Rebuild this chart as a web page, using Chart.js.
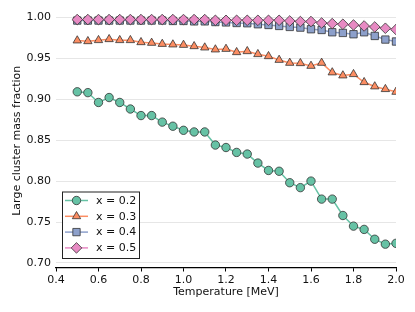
<!DOCTYPE html>
<html>
<head>
<meta charset="utf-8">
<script src="https://cdn.jsdelivr.net/npm/chart.js@4/dist/chart.umd.min.js"></script>
<style>
  html, body { margin: 0; padding: 0; background: #fff; }
</style>
</head>
<body>
<canvas id="massChart" width="415" height="312"></canvas>
<script>
// temperatures [MeV]
var temperatures = [0.50, 0.55, 0.60, 0.65, 0.70, 0.75, 0.80, 0.85, 0.90, 0.95,
                    1.00, 1.05, 1.10, 1.15, 1.20, 1.25, 1.30, 1.35, 1.40, 1.45,
                    1.50, 1.55, 1.60, 1.65, 1.70, 1.75, 1.80, 1.85, 1.90, 1.95, 2.00];

// large cluster mass fraction, one list per x
var fracX02 = [0.909, 0.908, 0.896, 0.902, 0.896, 0.888, 0.880, 0.880, 0.872, 0.867,
               0.862, 0.860, 0.860, 0.844, 0.841, 0.835, 0.833, 0.822, 0.813, 0.812,
               0.798, 0.792, 0.800, 0.778, 0.778, 0.758, 0.745, 0.741, 0.729, 0.723, 0.724];
var fracX03 = [0.9716, 0.9707, 0.972, 0.9732, 0.972, 0.972, 0.9695, 0.9687, 0.9674, 0.9667,
               0.9662, 0.9646, 0.963, 0.9606, 0.9613, 0.9573, 0.9585, 0.9549, 0.9524, 0.9479,
               0.9443, 0.9439, 0.9406, 0.9443, 0.9326, 0.9289, 0.9305, 0.9207, 0.9155, 0.9122, 0.9089];
var fracX04 = [0.996, 0.996, 0.996, 0.996, 0.996, 0.996, 0.996, 0.996, 0.996, 0.9955,
               0.9955, 0.995, 0.995, 0.9942, 0.9937, 0.993, 0.9927, 0.9915, 0.9906, 0.9894,
               0.9882, 0.9874, 0.9854, 0.9845, 0.9817, 0.9809, 0.9793, 0.9817, 0.9772, 0.9728, 0.9704];
var fracX05 = [0.9972, 0.9972, 0.9972, 0.9972, 0.9972, 0.9972, 0.9972, 0.9972, 0.9972, 0.9972,
               0.9972, 0.9972, 0.9972, 0.9963, 0.9963, 0.9963, 0.9963, 0.9963, 0.9963, 0.9963,
               0.9955, 0.9948, 0.9948, 0.993, 0.9923, 0.9915, 0.9906, 0.9894, 0.9882, 0.9866, 0.985];

var seriesLabels = ["x = 0.2", "x = 0.3", "x = 0.4", "x = 0.5"];
var xTickValues = [0.4, 0.6, 0.8, 1.0, 1.2, 1.4, 1.6, 1.8, 2.0];
var yTickValues = [0.70, 0.75, 0.80, 0.85, 0.90, 0.95, 1.00];

var FONT = "'DejaVu Sans', sans-serif";
var EDGE = "#333333";

function makeSet(label, values, color, style, radius, order) {
  return {
    label: label,
    data: temperatures.map(function(t, i) { return {x: t, y: values[i]}; }),
    borderColor: color,
    backgroundColor: color,
    borderWidth: 1.5,
    pointStyle: style,
    pointRadius: radius,
    pointBackgroundColor: color,
    pointBorderColor: EDGE,
    pointBorderWidth: 0.8,
    order: order
  };
}

var datasets = [
  makeSet(seriesLabels[0], fracX02, "#66c2a5", "circle", 4.2, 4),
  makeSet(seriesLabels[1], fracX03, "#fc8d62", "triangle", 4.8, 3),
  makeSet(seriesLabels[2], fracX04, "#8da0cb", "rect", 5.2, 2),
  makeSet(seriesLabels[3], fracX05, "#e78ac3", "rectRot", 5.3, 1)
];

// matplotlib-style boxed legend, drawn on the canvas
var boxLegend = {
  id: "boxLegend",
  afterDraw: function(chart) {
    var ctx = chart.ctx;
    var bx = 62, by = 191.5, bw = 77, bh = 66.5;
    ctx.save();
    ctx.fillStyle = "rgba(255,255,255,0.9)";
    ctx.fillRect(bx, by, bw, bh);
    ctx.strokeStyle = "#222";
    ctx.lineWidth = 1;
    ctx.strokeRect(bx + 0.5, by + 0.5, bw, bh);
    chart.data.datasets.forEach(function(ds, i) {
      var y = by + 9 + i * 15.8;
      ctx.strokeStyle = ds.borderColor;
      ctx.lineWidth = 1.5;
      ctx.beginPath();
      ctx.moveTo(65, y);
      ctx.lineTo(88, y);
      ctx.stroke();
      ctx.fillStyle = ds.pointBackgroundColor;
      ctx.strokeStyle = ds.pointBorderColor;
      ctx.lineWidth = ds.pointBorderWidth;
      Chart.helpers.drawPoint(ctx, {pointStyle: ds.pointStyle, radius: ds.pointRadius, borderWidth: ds.pointBorderWidth}, 76.5, y);
      ctx.fillStyle = "#111";
      ctx.font = "11px " + FONT;
      ctx.textBaseline = "middle";
      ctx.textAlign = "left";
      ctx.fillText(ds.label, 96, y + 0.5);
    });
    ctx.restore();
  }
};

new Chart(document.getElementById("massChart"), {
  type: "line",
  data: { datasets: datasets },
  plugins: [boxLegend],
  options: {
    responsive: false,
    animation: false,
    layout: { padding: { left: 0, right: 19, top: 14, bottom: 0 } },
    plugins: { legend: { display: false }, tooltip: { enabled: false } },
    scales: {
      x: {
        type: "linear",
        min: 0.4,
        max: 2.0,
        afterBuildTicks: function(scale) {
          scale.ticks = xTickValues.map(function(v) { return {value: v}; });
        },
        afterFit: function(scale) { scale.height = 44.5; },
        border: { display: true, color: "#000", width: 1.2 },
        grid: { drawOnChartArea: false, drawTicks: true, tickLength: 4, color: "#000", tickWidth: 1 },
        ticks: {
          padding: 2,
          color: "#111",
          font: { family: FONT, size: 11 },
          maxRotation: 0,
          callback: function(v) { return v.toFixed(1); }
        },
        title: {
          display: true,
          text: "Temperature [MeV]",
          color: "#111",
          font: { family: FONT, size: 11 },
          padding: { top: 0, bottom: 13 }
        }
      },
      y: {
        min: 0.6945,
        max: 1.004,
        afterBuildTicks: function(scale) {
          scale.ticks = yTickValues.map(function(v) { return {value: v}; });
        },
        afterFit: function(scale) { scale.width = 56; },
        border: { display: false },
        grid: { color: "#e6e6e6", lineWidth: 1, drawTicks: false },
        ticks: {
          padding: 5,
          color: "#111",
          font: { family: FONT, size: 11 },
          callback: function(v) { return v.toFixed(2); }
        },
        title: {
          display: true,
          text: "Large cluster mass fraction",
          color: "#111",
          font: { family: FONT, size: 11 },
          padding: { top: 11, bottom: 0 }
        }
      }
    }
  }
});
</script>
</body>
</html>
